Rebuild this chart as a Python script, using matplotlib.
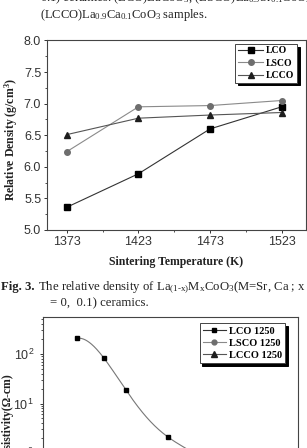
#!/usr/bin/env python
# Relative density of La(1-x)MxCoO3 ceramics (page scan crop)

import numpy as np
import matplotlib
matplotlib.use('Agg')
import matplotlib.pyplot as plt
import matplotlib.ticker as ticker

# Data: relative density vs sintering temperature
temps = [1373, 1423, 1473, 1523]
lco = [5.36, 5.89, 6.60, 6.95]
lsco = [6.24, 6.95, 6.97, 7.05]
lcco = [6.51, 6.77, 6.82, 6.86]

# Data: resistivity (lower chart, mostly cut off)
res_x = [30, 55, 75, 113, 152]
res_lco = [208, 82, 18.7, 2.13, 0.5]

plt.rcParams['mathtext.fontset'] = 'custom'
plt.rcParams['mathtext.rm'] = 'Liberation Serif'
plt.rcParams['mathtext.bf'] = 'Liberation Serif:bold'
plt.rcParams['mathtext.default'] = 'regular'
plt.rcParams['font.family'] = ['Liberation Sans', 'DejaVu Sans']

W, H = 307, 448
fig = plt.figure(figsize=(W / 100, H / 100), dpi=100)
fig.patch.set_facecolor('white')

def fx(px):
    return px / W

def fy(py):
    return 1 - py / H

serif = ['Liberation Serif', 'DejaVu Serif']
txt = '#222222'

# page text above the chart
fig.text(fx(40), fy(-2), r'0.1) ceramics. (LCO)LaCoO$_3$, (LSCO)La$_{0.9}$Sr$_{0.1}$CoO$_3$,',
         family=serif, fontsize=9, va='center', color=txt)
fig.text(fx(40), fy(15), r'(LCCO)La$_{0.9}$Ca$_{0.1}$CoO$_3$ samples.',
         family=serif, fontsize=9, va='center', color=txt)

# ---- chart 1 ----
ax = fig.add_axes([fx(46.7), fy(230), fx(306) - fx(46.7), fy(40.5) - fy(230)])
ax.plot(temps, lco, '-s', color='#333333', mfc='black', mec='black', ms=4, lw=0.8, label='LCO')
ax.plot(temps, lsco, '-o', color='#8a8a8a', mfc='#6e6e6e', mec='#6e6e6e', ms=4, lw=0.8, label='LSCO')
ax.plot(temps, lcco, '-^', color='#555555', mfc='#1e1e1e', mec='#1e1e1e', ms=4.5, lw=0.8, label='LCCO')
ax.set_xlim(1359, 1540)
ax.set_ylim(5.0, 8.0)
ax.set_xticks(temps)
ax.xaxis.set_minor_locator(ticker.FixedLocator([1398, 1448, 1498]))
ax.yaxis.set_major_locator(ticker.MultipleLocator(0.5))
ax.yaxis.set_minor_locator(ticker.MultipleLocator(0.25))
ax.yaxis.set_major_formatter(ticker.FormatStrFormatter('%.1f'))
ax.tick_params(axis='both', which='major', direction='out', length=2.5, width=0.7,
               labelsize=9, colors='#333333', pad=1.5)
ax.tick_params(axis='both', which='minor', direction='out', length=1.5, width=0.6, colors='#333333')
for s in ax.spines.values():
    s.set_linewidth(0.8)
    s.set_color('#444444')
leg = ax.legend(loc='upper right', bbox_to_anchor=(0.965, 0.982), borderaxespad=0,
                prop={'family': serif, 'weight': 'bold', 'size': 7},
                fancybox=False, edgecolor='#444444', framealpha=1,
                shadow={'color': 'black', 'alpha': 1},
                handlelength=2.6, handletextpad=0.3, borderpad=0.25, labelspacing=0.35)
leg.get_frame().set_linewidth(0.7)

fig.text(fx(11.7), fy(140), r'Relative Density (g/cm$^3$)', family=serif, weight='bold',
         fontsize=8.5, rotation=90, ha='center', va='center', color=txt)
fig.text(fx(176), fy(262), 'Sintering Temperature (K)', family=serif, weight='bold',
         fontsize=8.5, ha='center', va='center', color=txt)

# caption: bold "Fig. 3." followed by regular text on the same baseline
cap_base = fy(290)
t1 = fig.text(fx(1.5), cap_base, 'Fig. 3.', family=serif, weight='bold', fontsize=9.2,
              va='baseline', color=txt)
fig.canvas.draw()
x1 = t1.get_window_extent().x1
fig.text(fx(x1 + 2.5), cap_base, r'The relative density of La$_{(1\text{-}x)}$M$_x$CoO$_3$(M=Sr, Ca ; x',
         family=serif, fontsize=9.2, va='baseline', color=txt)
fig.text(fx(50), fy(303), '= 0,  0.1) ceramics.', family=serif, fontsize=9.2, va='center', color=txt)

# ---- chart 2 (cut off at the bottom of the page crop) ----
ax2 = fig.add_axes([fx(43), fy(502.5), fx(298) - fx(43), fy(317) - fy(502.5)])
coef = np.polyfit(res_x, np.log10(res_lco), len(res_x) - 1)
xs = np.linspace(res_x[0], res_x[-1], 200)
ax2.plot(xs, 10 ** np.polyval(coef, xs), '-', color='#777777', lw=0.8)
ax2.plot(res_x, res_lco, 's', color='black', ms=3.5)
ax2.plot([], [], '-s', color='#333333', mfc='black', mec='black', ms=3.5, lw=0.8, label='LCO 1250')
ax2.plot([], [], '-o', color='#8a8a8a', mfc='#6e6e6e', mec='#6e6e6e', ms=3.5, lw=0.8, label='LSCO 1250')
ax2.plot([], [], '-^', color='#555555', mfc='#1e1e1e', mec='#1e1e1e', ms=4, lw=0.8, label='LCCO 1250')
ax2.set_yscale('log')
ax2.set_xlim(-0.75, 232)
ax2.set_ylim(0.1, 560)
ax2.tick_params(axis='y', which='major', direction='out', length=2.5, width=0.7,
                labelsize=9, colors='#333333', pad=4)
ax2.tick_params(axis='y', which='minor', direction='out', length=1.5, width=0.6, colors='#333333')
ax2.tick_params(axis='x', which='both', bottom=False, labelbottom=False)
for s in ax2.spines.values():
    s.set_linewidth(0.8)
    s.set_color('#444444')
leg2 = ax2.legend(loc='upper right', bbox_to_anchor=(0.949, 0.965), borderaxespad=0,
                  prop={'family': serif, 'weight': 'bold', 'size': 7.5},
                  fancybox=False, edgecolor='#444444', framealpha=1,
                  shadow={'color': 'black', 'alpha': 1},
                  handlelength=2.2, handletextpad=0.3, borderpad=0.3, labelspacing=0.25)
leg2.get_frame().set_linewidth(0.7)

fig.text(fx(8), fy(373), 'Resistivity(Ω-cm)', family=serif, weight='bold',
         fontsize=8.5, rotation=90, ha='center', va='top', color=txt)

fig.savefig('out.png', dpi=100)
